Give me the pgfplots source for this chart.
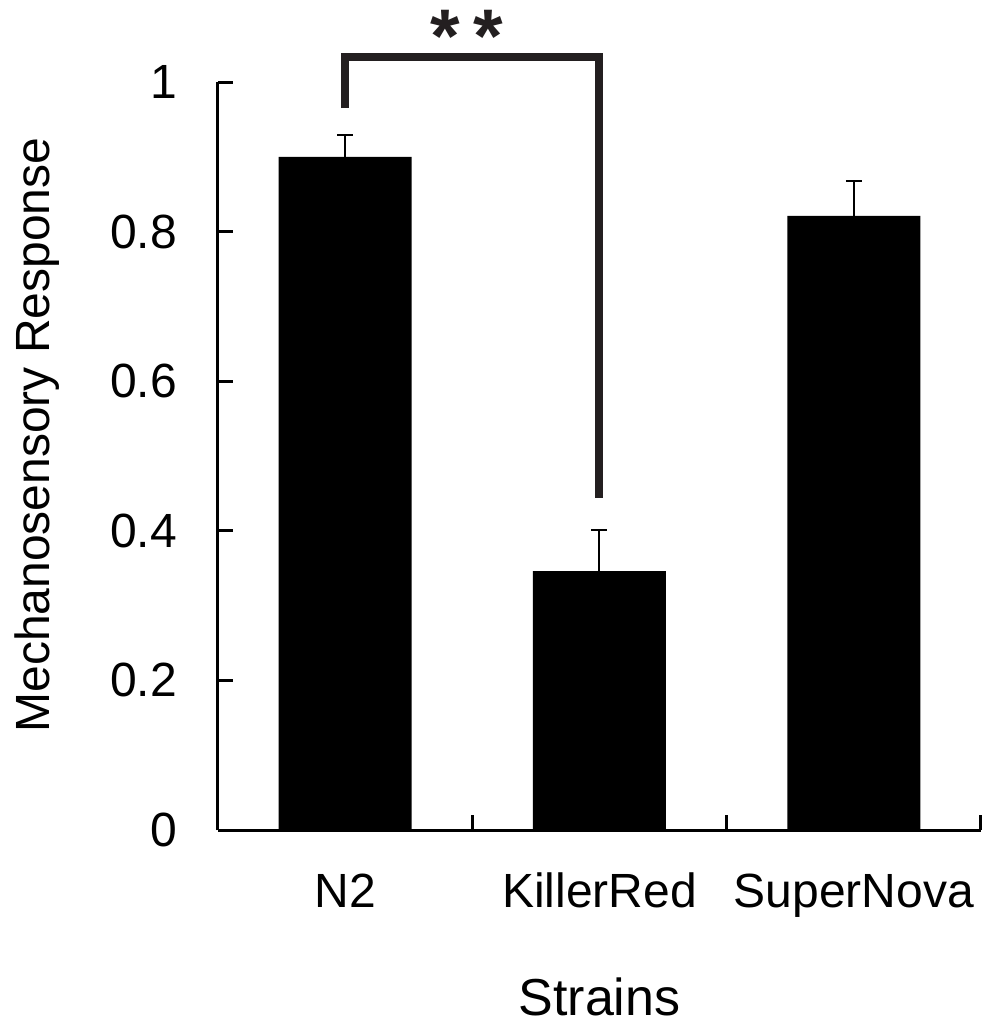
\documentclass[border=0pt]{standalone}
\usepackage{pgfplots}
\pgfplotsset{compat=1.18}
\usepackage{fontspec}
\setmainfont{Liberation Sans}
\definecolor{brk}{HTML}{231F20}
\begin{document}
\begin{tikzpicture}
\begin{axis}[
  at={(0,0)}, anchor=south west,
  scale only axis,
  width=381.5pt, height=374pt,
  xmin=-0.5, xmax=2.5, ymin=0, ymax=1,
  clip=false,
  axis x line*=bottom, axis y line*=left,
  axis line style={-, line width=1.5pt, black},
  tick align=inside,
  major tick length=7.5pt,
  tick style={line width=1.5pt, black},
  xtick={-0.5,0.5,1.5,2.5},
  xticklabels={,,,},
  extra x ticks={0,1,2},
  extra x tick labels={N2,KillerRed,SuperNova},
  extra x tick style={major tick length=0pt},
  xticklabel style={font=\fontsize{24}{28}\selectfont, anchor=base, yshift=-38.5pt},
  ytick={0,0.2,0.4,0.6,0.8,1},
  yticklabels={0,0.2,0.4,0.6,0.8,1},
  yticklabel style={font=\fontsize{24}{28}\selectfont, xshift=-17pt},
  xlabel={Strains},
  every axis x label/.style={at={(axis description cs:0.5,0)}, anchor=center, yshift=-83.5pt, font=\fontsize{26}{30}\selectfont},
  ylabel={Mechanosensory Response},
  every axis y label/.style={at={(axis description cs:-0.2366,0.528)}, anchor=center, rotate=90, font=\fontsize{24}{28}\selectfont},
]
\addplot[ybar, bar width=66.5pt, fill=black, draw=none,
  error bars/.cd, y dir=plus, y explicit,
  error bar style={draw=black, line width=1pt},
  error mark options={rotate=90, draw=black, mark size=4pt, line width=1.2pt}]
  coordinates {(0,0.900) +- (0,0.029) (1,0.346) +- (0,0.055) (2,0.821) +- (0,0.047)};
\draw[brk, line width=4pt, line join=miter, line cap=butt]
  (axis cs:0,0.965) -- (axis cs:0,1.0334) -- (axis cs:1,1.0334) -- (axis cs:1,0.444);
\node[brk, anchor=north, inner sep=0pt, font=\bfseries\fontsize{38}{38}\selectfont] at (axis cs:0.394,1.096) {*};
\node[brk, anchor=north, inner sep=0pt, font=\bfseries\fontsize{38}{38}\selectfont] at (axis cs:0.563,1.096) {*};
\end{axis}
\pgfresetboundingbox
\path (-109pt,-97pt) rectangle (384pt,415pt);
\end{tikzpicture}
\end{document}
